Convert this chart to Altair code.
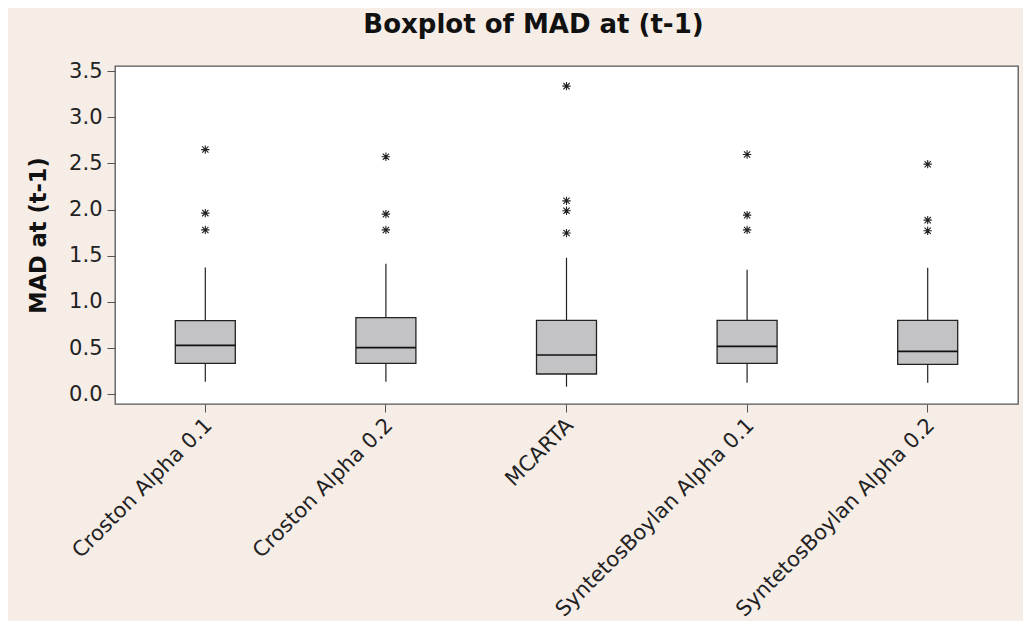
import altair as alt
import pandas as pd

categories = ["Croston Alpha 0.1", "Croston Alpha 0.2", "MCARTA",
              "SyntetosBoylan Alpha 0.1", "SyntetosBoylan Alpha 0.2"]
lower_whisker = [0.137, 0.137, 0.083, 0.126, 0.126]
q1 = [0.335, 0.335, 0.220, 0.335, 0.325]
median = [0.530, 0.505, 0.425, 0.519, 0.465]
q3 = [0.797, 0.830, 0.800, 0.800, 0.800]
upper_whisker = [1.374, 1.414, 1.479, 1.349, 1.370]
outliers = [
    [1.780, 1.962, 2.650],
    [1.780, 1.951, 2.572],
    [1.746, 1.987, 2.095, 3.337],
    [1.780, 1.940, 2.597],
    [1.771, 1.886, 2.492],
]

stats = pd.DataFrame({
    "cat": categories, "lo": lower_whisker, "q1": q1, "med": median,
    "q3": q3, "hi": upper_whisker,
})
out_df = pd.DataFrame(
    [{"cat": c, "v": v} for c, vals in zip(categories, outliers) for v in vals]
)

FONT = "DejaVu Sans"
x_enc = alt.X("cat:N", sort=categories, title=None,
              scale=alt.Scale(paddingInner=0, paddingOuter=0),
              axis=alt.Axis(labelAngle=-45, labelFontSize=21, labelFont=FONT,
                            labelColor="#222", tickSize=8, tickColor="#555",
                            domain=False, labelPadding=2, labelOffset=-4,
                            labelLimit=400))
y_scale = alt.Scale(domain=[-0.105, 3.555], nice=False, zero=False)
y_axis = alt.Axis(values=[0, 0.5, 1, 1.5, 2, 2.5, 3, 3.5], format=".1f",
                  labelFontSize=21, labelFont=FONT, labelColor="#222",
                  tickSize=8, tickColor="#555", domain=False, grid=False,
                  labelPadding=5, title="MAD at (t-1)", titleFont=FONT,
                  titleFontSize=22.5, titleFontWeight="bold", titleColor="#111",
                  titleBaseline="middle", titleX=-77, titleY=169)

base = alt.Chart(stats)

whisk_lo = base.mark_rule(color="#222", strokeWidth=1.2).encode(
    x=x_enc, y=alt.Y("lo:Q", scale=y_scale, axis=y_axis), y2="q1:Q")
whisk_hi = base.mark_rule(color="#222", strokeWidth=1.2).encode(
    x=alt.X("cat:N", sort=categories), y=alt.Y("q3:Q"), y2="hi:Q")
box = base.mark_bar(size=60, fill="#c3c2c5", stroke="#222",
                    strokeWidth=1.3).encode(
    x=alt.X("cat:N", sort=categories), y=alt.Y("q1:Q"), y2="q3:Q")
med_tick = base.mark_tick(size=60, thickness=1.6, color="#111",
                          opacity=1).encode(
    x=alt.X("cat:N", sort=categories), y=alt.Y("med:Q"))
star = "M-1,0L1,0M0,-1L0,1M-0.75,-0.75L0.75,0.75M-0.75,0.75L0.75,-0.75"
pts = alt.Chart(out_df).mark_point(shape=star, size=70, filled=False,
                                   stroke="#222", strokeWidth=1.1,
                                   opacity=1).encode(
    x=alt.X("cat:N", sort=categories), y=alt.Y("v:Q"))

chart = alt.layer(whisk_lo, whisk_hi, box, med_tick, pts).properties(
    width=903, height=338,
    title=alt.TitleParams("Boxplot of MAD at (t-1)", font=FONT, fontSize=26,
                          fontWeight="bold", color="#111", anchor="middle",
                          dx=-33, offset=22),
    autosize=alt.AutoSizeParams(type="none"),
    padding={"left": 107, "top": 58, "right": 5, "bottom": 217},
).configure(background="#f6ede7").configure_view(
    fill="white", stroke="#555", strokeWidth=1.3)

chart.save("out.html", embed_options={"renderer": "svg", "actions": False})
